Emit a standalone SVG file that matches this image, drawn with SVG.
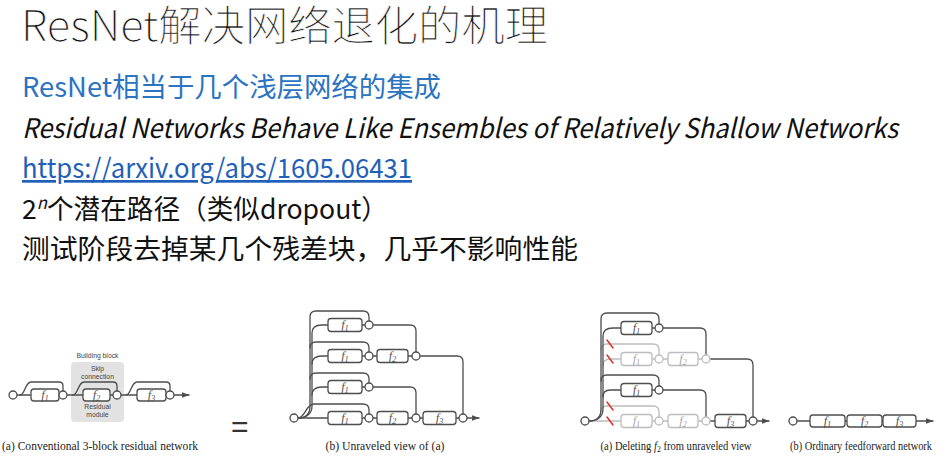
<svg xmlns="http://www.w3.org/2000/svg" width="946" height="465" viewBox="0 0 946 465">
  <style>
    .cjk { font-family: "Noto Sans CJK SC", "Noto Sans", sans-serif; }
    .title { font-size: 42px; font-weight: 300; fill: #111; stroke: #fff; stroke-width: 0.7px; }
    .body { font-size: 27px; fill: #111; }
    .blue { fill: #2a74c2; }
    .link { fill: #2160b8; text-decoration: underline; }
    .ln { fill: none; stroke: #4d4d4d; stroke-width: 1.3; stroke-linecap: round; stroke-linejoin: round; }
    .lg { fill: none; stroke: #bdbdbd; stroke-width: 1.3; stroke-linecap: round; stroke-linejoin: round; }
    .red { stroke: #e0302a; stroke-width: 1.5; stroke-linecap: round; }
    .box { fill: #fff; stroke: #4d4d4d; stroke-width: 1.3; }
    .boxg { fill: #fff; stroke: #bdbdbd; stroke-width: 1.3; }
    .dot { fill: #fff; stroke: #4d4d4d; stroke-width: 1.3; }
    .dotg { fill: #fff; stroke: #bdbdbd; stroke-width: 1.3; }
    .fl { font-family: "Liberation Serif", serif; font-style: italic; font-size: 12.5px; fill: #555; text-anchor: middle; }
    .flg { font-family: "Liberation Serif", serif; font-style: italic; font-size: 12.5px; fill: #aaa; text-anchor: middle; }
    .sub { font-size: 8.5px; }
    .cap { font-family: "Liberation Serif", serif; font-size: 11.5px; fill: #222; }
    .note { font-family: "Liberation Sans", sans-serif; font-size: 6.8px; fill: #444; text-anchor: middle; }
  </style>
  <defs>
    <marker id="arrow" viewBox="0 0 8 6" refX="7.5" refY="3" markerWidth="8" markerHeight="6" markerUnits="userSpaceOnUse" orient="auto">
      <path d="M0,0 L8,3 L0,6 Z" fill="#4d4d4d"/>
    </marker>
  </defs>

  <rect width="946" height="465" fill="#fff"/>

  <!-- Slide text -->
  <g id="text">
    <text class="cjk title" x="21" y="41" textLength="527" lengthAdjust="spacingAndGlyphs">ResNet解决网络退化的机理</text>
    <text class="cjk body blue" x="22" y="97" textLength="419" lengthAdjust="spacingAndGlyphs">ResNet相当于几个浅层网络的集成</text>
    <text class="cjk body" x="22" y="138" font-style="italic" textLength="876" lengthAdjust="spacingAndGlyphs">Residual Networks Behave Like Ensembles of Relatively Shallow Networks</text>
    <text class="cjk body link" x="22" y="178" textLength="390" lengthAdjust="spacingAndGlyphs">https://arxiv.org/abs/1605.06431</text>
    <text class="cjk body" x="22" y="219" textLength="366" lengthAdjust="spacingAndGlyphs">2<tspan font-size="17" font-style="italic" dy="-10">n</tspan><tspan dy="10">个潜在路径（类似dropout）</tspan></text>
    <text class="cjk body" x="22" y="259" textLength="556" lengthAdjust="spacingAndGlyphs">测试阶段去掉某几个残差块，几乎不影响性能</text>
  </g>

  <!-- Conventional 3-block residual network -->
  <g id="fig-conventional">
    <g id="building-block">
      <rect x="71" y="362" width="53" height="60" rx="4" fill="#e2e2e2"/>
      <text class="note" x="97.5" y="358">Building block</text>
      <text class="note" x="97.5" y="371">Skip</text>
      <text class="note" x="97.5" y="378.5">connection</text>
      <text class="note" x="97.5" y="409">Residual</text>
      <text class="note" x="97.5" y="416.5">module</text>
    </g>
    <g id="conv-connectors">
      <path class="ln" d="M17 395 L31 395 M67 395 L83 395 M110 395 L113 395 M121 395 L137 395"/>
      <path class="ln" d="M20 395 C25 395 25 382 31 382 L59 382 Q63 382 63 386 L63 391"/>
      <path class="ln" d="M73 395 C78 395 78 382 84 382 L113 382 Q117 382 117 386 L117 391"/>
      <path class="ln" d="M126 395 C131 395 131 382 137 382 L166 382 Q170 382 170 386 L170 391"/>
      <path class="ln" d="M174 395 L189 395" marker-end="url(#arrow)"/>
    </g>
    <g id="conv-in"><circle class="dot" cx="13" cy="395" r="4"/></g>
    <g id="conv-f1"><rect class="box" x="31" y="389" width="28" height="12" rx="3"/><text class="fl" x="45" y="399">f<tspan class="sub" dy="2">1</tspan></text></g>
    <g id="conv-s1"><circle class="dot" cx="63" cy="395" r="4"/></g>
    <g id="conv-f2"><rect class="box" x="83" y="389" width="27" height="12" rx="3"/><text class="fl" x="96.5" y="399">f<tspan class="sub" dy="2">2</tspan></text></g>
    <g id="conv-s2"><circle class="dot" cx="117" cy="395" r="4"/></g>
    <g id="conv-f3"><rect class="box" x="137" y="389" width="29" height="12" rx="3"/><text class="fl" x="151.5" y="399">f<tspan class="sub" dy="2">3</tspan></text></g>
    <g id="conv-s3"><circle class="dot" cx="170" cy="395" r="4"/></g>
    <text class="cap" x="2" y="450" textLength="196" lengthAdjust="spacingAndGlyphs">(a) Conventional 3-block residual network</text>
  </g>

  <text x="231" y="437" font-family="Liberation Sans, sans-serif" font-size="30" fill="#333">=</text>

  <!-- Unraveled view -->
  <g id="fig-unraveled">
    <g id="unr-connectors">
      <!-- skip paths -->
      <path class="ln" d="M298 418 C306 418 310 414 310 406 L310 317 Q310 311 316 311 L363 311 Q369 311 369 317 L369 321"/>
      <path class="ln" d="M310 348 Q310 342 316 342 L363 342 Q369 342 369 348 L369 352"/>
      <path class="ln" d="M310 379 Q310 373 316 373 L363 373 Q369 373 369 379 L369 383"/>
      <path class="ln" d="M298 418 C305 418 306 404 314 404 L363 404 Q369 404 369 410 L369 414"/>
      <!-- branch paths -->
      <path class="ln" d="M298 418 C306 418 312 414 312 406 L312 333 C312 327 316 325 322 325 L328 325"/>
      <path class="ln" d="M312 364 C312 358 316 356 322 356 L328 356"/>
      <path class="ln" d="M312 395 C312 389 316 387 322 387 L328 387"/>
      <path class="ln" d="M298 418 L328 418"/>
      <!-- row links -->
      <path class="ln" d="M362 325 L365 325 M373 325 L410 325 Q416 325 416 331 L416 352"/>
      <path class="ln" d="M362 356 L365 356 M373 356 L377 356 M408 356 L412 356 M420 356 L457 356 Q463 356 463 362 L463 414"/>
      <path class="ln" d="M362 387 L365 387 M373 387 L410 387 Q416 387 416 393 L416 414"/>
      <path class="ln" d="M362 418 L365 418 M373 418 L377 418 M408 418 L412 418 M420 418 L423 418 M456 418 L459 418"/>
      <path class="ln" d="M467 418 L479 418" marker-end="url(#arrow)"/>
    </g>
    <g id="unr-in"><circle class="dot" cx="294" cy="418" r="4"/></g>
    <g id="unr-r1-f1"><rect class="box" x="328" y="318.5" width="34" height="13" rx="3"/><text class="fl" x="345" y="329">f<tspan class="sub" dy="2">1</tspan></text></g>
    <g id="unr-r1-s"><circle class="dot" cx="369" cy="325" r="4"/></g>
    <g id="unr-r2-f1"><rect class="box" x="328" y="349.5" width="34" height="13" rx="3"/><text class="fl" x="345" y="360">f<tspan class="sub" dy="2">1</tspan></text></g>
    <g id="unr-r2-s1"><circle class="dot" cx="369" cy="356" r="4"/></g>
    <g id="unr-r2-f2"><rect class="box" x="377" y="349.5" width="31" height="13" rx="3"/><text class="fl" x="392.5" y="360">f<tspan class="sub" dy="2">2</tspan></text></g>
    <g id="unr-r2-s2"><circle class="dot" cx="416" cy="356" r="4"/></g>
    <g id="unr-r3-f1"><rect class="box" x="328" y="380.5" width="34" height="13" rx="3"/><text class="fl" x="345" y="391">f<tspan class="sub" dy="2">1</tspan></text></g>
    <g id="unr-r3-s"><circle class="dot" cx="369" cy="387" r="4"/></g>
    <g id="unr-r4-f1"><rect class="box" x="328" y="411.5" width="34" height="13" rx="3"/><text class="fl" x="345" y="422">f<tspan class="sub" dy="2">1</tspan></text></g>
    <g id="unr-r4-s1"><circle class="dot" cx="369" cy="418" r="4"/></g>
    <g id="unr-r4-f2"><rect class="box" x="377" y="411.5" width="31" height="13" rx="3"/><text class="fl" x="392.5" y="422">f<tspan class="sub" dy="2">2</tspan></text></g>
    <g id="unr-r4-s2"><circle class="dot" cx="416" cy="418" r="4"/></g>
    <g id="unr-r4-f3"><rect class="box" x="423" y="411.5" width="33" height="13" rx="3"/><text class="fl" x="439.5" y="422">f<tspan class="sub" dy="2">3</tspan></text></g>
    <g id="unr-out"><circle class="dot" cx="463" cy="418" r="4"/></g>
    <text class="cap" x="385" y="450" text-anchor="middle" textLength="119" lengthAdjust="spacingAndGlyphs">(b) Unraveled view of (a)</text>
  </g>

  <!-- Deleting f2 from the unraveled view -->
  <g id="fig-deleted">
    <g id="del-connectors">
      <!-- removed paths (grey) -->
      <path class="lg" d="M601 350 Q601 344 607 344 L653 344 Q659 344 659 350 L659 355"/>
      <path class="lg" d="M603 366 Q603 359 610 359 L621 359"/>
      <path class="lg" d="M652 359 L655 359 M663 359 L668 359 M698 359 L702 359"/>
      <path class="lg" d="M601 412 Q601 406 607 406 L653 406 Q659 406 659 412 L659 417"/>
      <path class="lg" d="M589 421 L621 421"/>
      <path class="lg" d="M652 421 L655 421 M663 421 L668 421 M698 421 L702 421"/>
      <!-- remaining paths (dark) -->
      <path class="ln" d="M589 421 C597 421 601 417 601 409 L601 319 Q601 313 607 313 L653 313 Q659 313 659 319 L659 324"/>
      <path class="ln" d="M589 421 C597 421 603 417 603 409 L603 336 C603 330 607 328 613 328 L621 328"/>
      <path class="ln" d="M601 381 Q601 375 607 375 L653 375 Q659 375 659 381 L659 386"/>
      <path class="ln" d="M603 397 Q603 390 610 390 L621 390"/>
      <path class="ln" d="M652 328 L655 328 M663 328 L700 328 Q706 328 706 334 L706 355"/>
      <path class="ln" d="M652 390 L655 390 M663 390 L700 390 Q706 390 706 396 L706 417"/>
      <path class="ln" d="M710 359 L747 359 Q753 359 753 365 L753 417"/>
      <path class="ln" d="M710 421 L715 421 M746 421 L749 421"/>
      <path class="ln" d="M757 421 L769 421" marker-end="url(#arrow)"/>
      <!-- cut marks -->
      <path class="red" d="M607 340 L613 348 M607 355 L613 363 M607 402 L613 410 M607 417 L613 425"/>
    </g>
    <g id="del-in"><circle class="dot" cx="585" cy="421" r="4"/></g>
    <g id="del-r1-f1"><rect class="box" x="621" y="321.5" width="31" height="13" rx="3"/><text class="fl" x="636.5" y="332">f<tspan class="sub" dy="2">1</tspan></text></g>
    <g id="del-r1-s"><circle class="dot" cx="659" cy="328" r="4"/></g>
    <g id="del-r2-f1"><rect class="boxg" x="621" y="352.5" width="31" height="13" rx="3"/><text class="flg" x="636.5" y="363">f<tspan class="sub" dy="2">1</tspan></text></g>
    <g id="del-r2-s1"><circle class="dotg" cx="659" cy="359" r="4"/></g>
    <g id="del-r2-f2"><rect class="boxg" x="668" y="352.5" width="30" height="13" rx="3"/><text class="flg" x="683" y="363">f<tspan class="sub" dy="2">2</tspan></text></g>
    <g id="del-r2-s2"><circle class="dotg" cx="706" cy="359" r="4"/></g>
    <g id="del-r3-f1"><rect class="box" x="621" y="383.5" width="31" height="13" rx="3"/><text class="fl" x="636.5" y="394">f<tspan class="sub" dy="2">1</tspan></text></g>
    <g id="del-r3-s"><circle class="dot" cx="659" cy="390" r="4"/></g>
    <g id="del-r4-f1"><rect class="boxg" x="621" y="414.5" width="31" height="13" rx="3"/><text class="flg" x="636.5" y="425">f<tspan class="sub" dy="2">1</tspan></text></g>
    <g id="del-r4-s1"><circle class="dotg" cx="659" cy="421" r="4"/></g>
    <g id="del-r4-f2"><rect class="boxg" x="668" y="414.5" width="30" height="13" rx="3"/><text class="flg" x="683" y="425">f<tspan class="sub" dy="2">2</tspan></text></g>
    <g id="del-r4-s2"><circle class="dotg" cx="706" cy="421" r="4"/></g>
    <g id="del-r4-f3"><rect class="box" x="715" y="414.5" width="31" height="13" rx="3"/><text class="fl" x="730.5" y="425">f<tspan class="sub" dy="2">3</tspan></text></g>
    <g id="del-out"><circle class="dot" cx="753" cy="421" r="4"/></g>
    <text class="cap" x="676" y="450" text-anchor="middle" textLength="151" lengthAdjust="spacingAndGlyphs">(a) Deleting <tspan font-style="italic">f</tspan><tspan font-size="8.5" dy="2">2</tspan><tspan dy="-2"> from unraveled view</tspan></text>
  </g>

  <!-- Ordinary feedforward network -->
  <g id="fig-feedforward">
    <g id="ff-connectors">
      <path class="ln" d="M797 421 L810 421 M845 421 L847 421 M882 421 L883 421"/>
      <path class="ln" d="M916 421 L933 421" marker-end="url(#arrow)"/>
    </g>
    <g id="ff-in"><circle class="dot" cx="793" cy="421" r="4"/></g>
    <g id="ff-f1"><rect class="box" x="810" y="415" width="35" height="12" rx="3"/><text class="fl" x="827.5" y="425">f<tspan class="sub" dy="2">1</tspan></text></g>
    <g id="ff-f2"><rect class="box" x="847" y="415" width="35" height="12" rx="3"/><text class="fl" x="864.5" y="425">f<tspan class="sub" dy="2">2</tspan></text></g>
    <g id="ff-f3"><rect class="box" x="883" y="415" width="33" height="12" rx="3"/><text class="fl" x="899.5" y="425">f<tspan class="sub" dy="2">3</tspan></text></g>
    <text class="cap" x="861" y="450" text-anchor="middle" textLength="142" lengthAdjust="spacingAndGlyphs">(b) Ordinary feedforward network</text>
  </g>
</svg>
